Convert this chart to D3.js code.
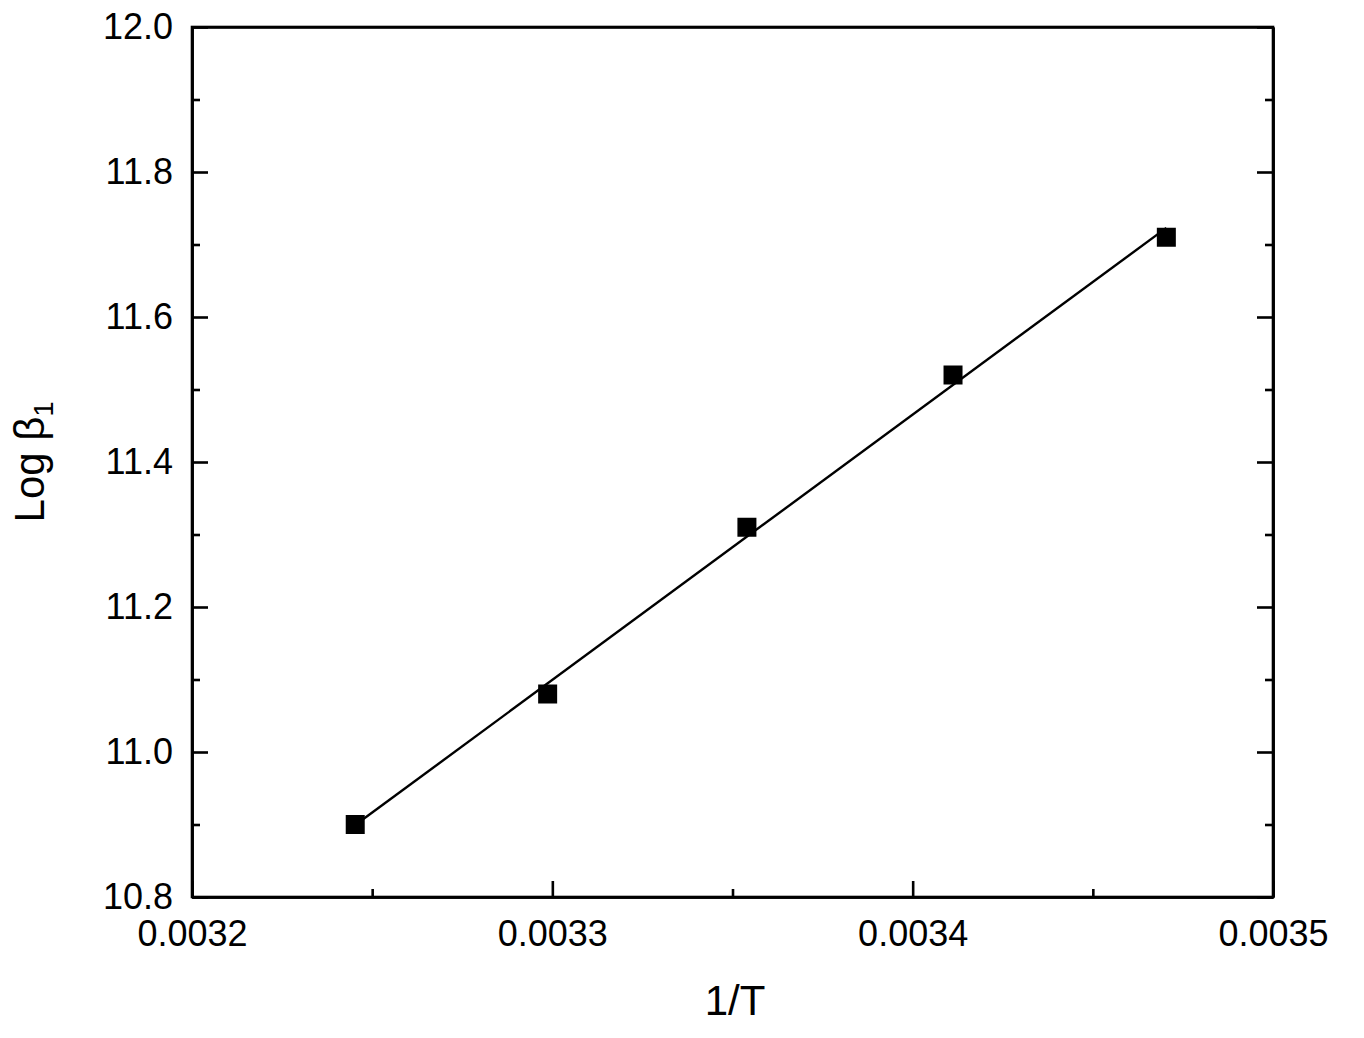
<!DOCTYPE html>
<html>
<head>
<meta charset="utf-8">
<script src="https://cdn.jsdelivr.net/npm/d3@7"></script>
<style>
  html, body { margin: 0; padding: 0; background: #fff; }
  svg { display: block; font-family: "Liberation Sans", Arial, sans-serif; }
</style>
</head>
<body>
<svg id="chart" width="1364" height="1038"></svg>
<script>
// ---- data ----
const invT = [0.0032453, 0.0032987, 0.0033540, 0.0034112, 0.0034704];
const logBeta = [10.90, 11.08, 11.31, 11.52, 11.71];
const xDomain = [0.0032, 0.0035];
const yDomain = [10.8, 12.0];
const xMajorTicks = [0.0032, 0.0033, 0.0034, 0.0035];
const xTickLabels = ["0.0032", "0.0033", "0.0034", "0.0035"];
const yMajorTicks = [10.8, 11.0, 11.2, 11.4, 11.6, 11.8, 12.0];
const yTickLabels = ["10.8", "11.0", "11.2", "11.4", "11.6", "11.8", "12.0"];
const xMinorTicks = [0.00325, 0.00335, 0.00345];
const yMinorTicks = [10.9, 11.1, 11.3, 11.5, 11.7, 11.9];

(function () {
// ---- layout ----
const svg = d3.select("#chart");
const m = { left: 192, top: 27, right: 1364 - 1273, bottom: 1038 - 897 };
const W = 1364 - m.left - m.right, H = 1038 - m.top - m.bottom;
const x = d3.scaleLinear().domain(xDomain).range([0, W]);
const y = d3.scaleLinear().domain(yDomain).range([H, 0]);
const g = svg.append("g").attr("transform", `translate(${m.left},${m.top})`);

const majorLen = 16, minorLen = 8, sw = 2.6;

// linear fit from data
const n = invT.length;
const mx = d3.mean(invT), my = d3.mean(logBeta);
const slope = d3.sum(invT.map((v, i) => (v - mx) * (logBeta[i] - my))) / d3.sum(invT.map(v => (v - mx) ** 2));
const icpt = my - slope * mx;
const x0 = invT[0], x1 = invT[n - 1];
g.append("line")
  .attr("x1", x(x0)).attr("y1", y(icpt + slope * x0))
  .attr("x2", x(x1)).attr("y2", y(icpt + slope * x1))
  .attr("stroke", "#000").attr("stroke-width", 2.4);

// markers
const ms = 19;
g.selectAll("rect.pt").data(invT).enter().append("rect")
  .attr("class", "pt")
  .attr("x", d => x(d) - ms / 2)
  .attr("y", (d, i) => y(logBeta[i]) - ms / 2)
  .attr("width", ms).attr("height", ms)
  .attr("fill", "#000");

// axes (ticks inward)
const bottomAx = g.append("g").attr("transform", `translate(0,${H})`)
  .call(d3.axisBottom(x).tickValues(xMajorTicks).tickSizeInner(-majorLen).tickSizeOuter(0)
    .tickPadding(majorLen + 20).tickFormat((d, i) => xTickLabels[i]));
bottomAx.append("g").call(d3.axisBottom(x).tickValues(xMinorTicks).tickSizeInner(-minorLen).tickSizeOuter(0).tickFormat(""));

const leftAx = g.append("g")
  .call(d3.axisLeft(y).tickValues(yMajorTicks).tickSizeInner(-majorLen).tickSizeOuter(0)
    .tickPadding(19).tickFormat((d, i) => yTickLabels[i]));
leftAx.append("g").call(d3.axisLeft(y).tickValues(yMinorTicks).tickSizeInner(-minorLen).tickSizeOuter(0).tickFormat(""));

const rightAx = g.append("g").attr("transform", `translate(${W},0)`)
  .call(d3.axisRight(y).tickValues(yMajorTicks).tickSizeInner(-majorLen).tickSizeOuter(0).tickFormat(""));
rightAx.append("g").call(d3.axisRight(y).tickValues(yMinorTicks).tickSizeInner(-minorLen).tickSizeOuter(0).tickFormat(""));

g.append("g").call(d3.axisTop(x).tickValues([]).tickSizeOuter(0));

g.selectAll(".domain").attr("stroke", "#000").attr("stroke-width", sw);
g.selectAll(".tick line").attr("stroke", "#000").attr("stroke-width", sw);
g.selectAll(".tick text").attr("font-size", 36).attr("fill", "#000")
  .attr("font-family", "'Liberation Sans', Arial, sans-serif");
bottomAx.selectAll(".tick text").attr("dy", "0.37em");

// frame
g.append("rect").attr("x", 0).attr("y", 0).attr("width", W).attr("height", H)
  .attr("fill", "none").attr("stroke", "#000").attr("stroke-width", sw);

// axis titles
svg.append("text").attr("x", 735).attr("y", 1015)
  .attr("text-anchor", "middle").attr("font-size", 42).attr("fill", "#000")
  .text("1/T");
const yl = svg.append("text")
  .attr("transform", "translate(44,462) rotate(-90)")
  .attr("text-anchor", "middle").attr("font-size", 42).attr("fill", "#000");
yl.append("tspan").text("Log ");
yl.append("tspan").text("β");
yl.append("tspan").attr("font-size", 27).attr("dy", 9).text("1");
})();
</script>
</body>
</html>
